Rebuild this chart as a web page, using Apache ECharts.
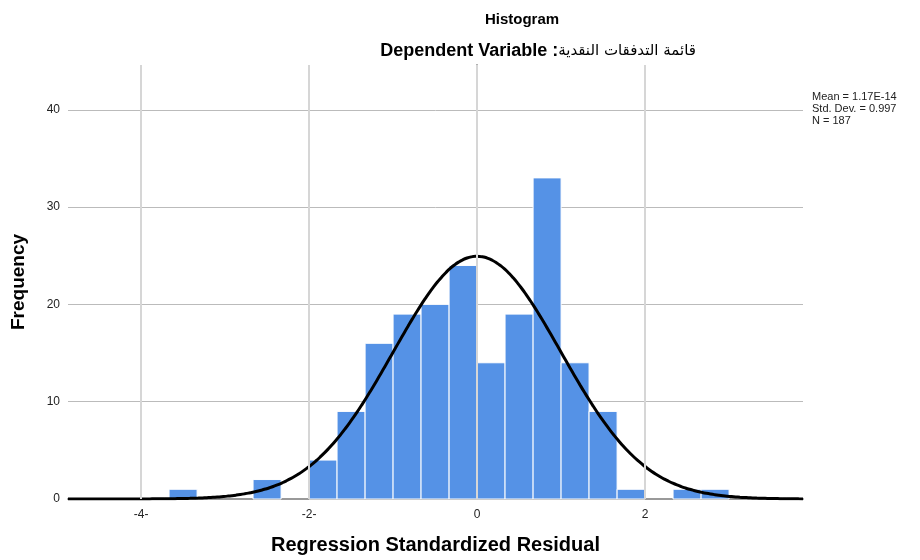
<!DOCTYPE html>
<html>
<head>
<meta charset="utf-8">
<script src="https://cdn.jsdelivr.net/npm/echarts@6/dist/echarts.min.js"></script>
<style>
  html, body { margin: 0; padding: 0; background: #fff; }
  #chart { width: 920px; height: 560px; }
</style>
</head>
<body>
<div id="chart"></div>
<script>
// histogram bins (regression standardized residual), width 1/3
var binLeft = [-3.667, -2.667, -2, -1.667, -1.333, -1, -0.667, -0.333, 0, 0.333, 0.667, 1, 1.333, 1.667, 2.333, 2.667];
var binRight = [-3.333, -2.333, -1.667, -1.333, -1, -0.667, -0.333, 0, 0.333, 0.667, 1, 1.333, 1.667, 2, 2.667, 3];
var counts = [1, 2, 4, 9, 16, 19, 20, 24, 14, 19, 33, 14, 9, 1, 1, 1];

var xTicks = [-4, -2, 0, 2];
var xTickLabels = ["-4-", "-2-", "0", "2"];
var yTicks = [0, 10, 20, 30, 40];

var statMean = 1.17e-14, statSd = 0.997, statN = 187, binWidth = 1 / 3;
var statLines = ["Mean = 1.17E-14", "Std. Dev. = 0.997", "N = 187"];

var xMin = -4.87, xMax = 3.88, yMax = 44.6;
var font = "Liberation Sans, Arial, DejaVu Sans, sans-serif";

// fitted normal curve scaled to counts
var curve = [];
for (var x = xMin; x <= xMax + 0.001; x += 0.05) {
  var z = (x - statMean) / statSd;
  curve.push([x, statN * binWidth * Math.exp(-z * z / 2) / (statSd * Math.sqrt(2 * Math.PI))]);
}

var bars = counts.map(function (c, i) { return [binLeft[i], binRight[i], c]; });

var chart = echarts.init(document.getElementById("chart"));
var option = {
  animation: false,
  title: [
    {
      text: "Histogram", left: 517, top: 7, textAlign: "center",
      textStyle: { fontFamily: font, fontSize: 15, fontWeight: "bold", color: "#000" }
    },
    {
      text: "{a|Dependent Variable :}{b|قائمة التدفقات النقدية}", left: 533, top: 37, textAlign: "center",
      textStyle: {
        rich: {
          a: { fontFamily: font, fontSize: 18, fontWeight: "bold", color: "#000" },
          b: { fontFamily: "DejaVu Sans, sans-serif", fontSize: 15, fontWeight: "normal", color: "#000" }
        }
      }
    }
  ],
  grid: { left: 68, right: 117, top: 65, bottom: 60 },
  xAxis: {
    type: "value", min: xMin, max: xMax,
    name: "Regression Standardized Residual", nameLocation: "middle", nameGap: 36,
    nameTextStyle: { fontFamily: font, fontSize: 20, fontWeight: "bold", color: "#000" },
    axisLine: { show: true, onZero: false, lineStyle: { color: "#999", width: 2 } },
    axisTick: { show: false },
    splitLine: { show: false },
    axisLabel: {
      customValues: xTicks, margin: 10,
      fontFamily: font, fontSize: 12, color: "#222",
      formatter: function (v) { return xTickLabels[xTicks.indexOf(v)]; }
    }
  },
  yAxis: {
    type: "value", min: 0, max: yMax,
    name: "Frequency", nameLocation: "middle", nameGap: 40,
    nameTextStyle: { fontFamily: font, fontSize: 19, fontWeight: "bold", color: "#000" },
    axisLine: { show: true, lineStyle: { color: "#999", width: 2 } },
    axisTick: { show: false },
    splitLine: { show: true, showMinLine: false, showMaxLine: false, lineStyle: { color: "#bbb", width: 1 } },
    axisLabel: {
      customValues: yTicks, margin: 8,
      fontFamily: font, fontSize: 12, color: "#222"
    }
  },
  graphic: statLines.map(function (t, i) {
    return {
      type: "text", left: 812, top: 91 + i * 12,
      style: { text: t, font: "11px Liberation Sans, Arial, sans-serif", fill: "#222" }
    };
  }),
  series: [
    {
      type: "line", data: [], silent: true, z: 1,
      markLine: {
        silent: true, symbol: "none", label: { show: false },
        lineStyle: { color: "#d6d6d6", width: 2, type: "solid" },
        data: xTicks.map(function (v) { return { xAxis: v }; })
      }
    },
    {
      type: "custom", z: 2,
      data: bars,
      renderItem: function (params, api) {
        var p0 = api.coord([api.value(0), api.value(2)]);
        var p1 = api.coord([api.value(1), 0]);
        return {
          type: "rect",
          shape: { x: p0[0], y: p0[1], width: p1[0] - p0[0], height: p1[1] - p0[1] },
          style: { fill: "#5592e6", stroke: "#fff", lineWidth: 1 }
        };
      }
    },
    {
      type: "line", data: curve, showSymbol: false, smooth: true, z: 3,
      lineStyle: { color: "#000", width: 3 }
    }
  ]
};
chart.setOption(option);
</script>
</body>
</html>
